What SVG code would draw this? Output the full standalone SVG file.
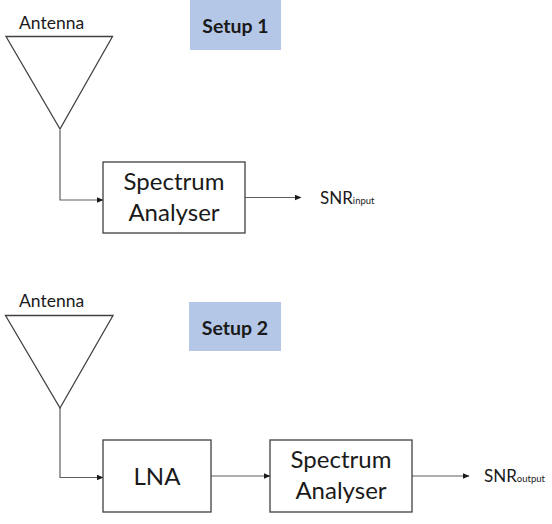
<svg xmlns="http://www.w3.org/2000/svg" width="552" height="524" viewBox="0 0 552 524">
<style>
text{font-family:Lato,"Open Sans",sans-serif;fill:#1a1a1a}
.s{fill:#fff;stroke:#404040;stroke-width:1.3}
.l{fill:none;stroke:#606060;stroke-width:1.2}
.b{fill:#b4c7e7}
.h{font-weight:700;font-size:19.500px;text-anchor:middle}
.t{font-size:24px;text-anchor:middle}
.a{font-size:17.500px}
.n{font-size:17px}
.u{font-size:9.500px}
</style>
<defs><marker id="m" markerWidth="7" markerHeight="6" refX="6.500" refY="3" orient="auto" markerUnits="userSpaceOnUse"><path d="M0 0L7 3L0 6z" fill="#1a1a1a"/></marker></defs>
<rect width="552" height="524" fill="#fff"/>
<g id="connectors">
<path class="l" marker-end="url(#m)" d="M60 130V200H103"/>
<path class="l" marker-end="url(#m)" d="M245 197.500H301"/>
<path class="l" marker-end="url(#m)" d="M60 408V477.500H103"/>
<path class="l" marker-end="url(#m)" d="M211 476H270"/>
<path class="l" marker-end="url(#m)" d="M412 476H469"/>
</g>
<g id="setup1"><rect class="b" x="190" y="0" width="91" height="50"/><text class="h" x="235.500" y="33">Setup 1</text></g>
<g id="antenna1"><path class="s" d="M6 36.500H112.500L60 129z"/><text class="a" x="19" y="29">Antenna</text></g>
<g id="analyser1"><rect class="s" x="103" y="162" width="142" height="71"/><text class="t" x="174" y="190">Spectrum</text><text class="t" x="174" y="221">Analyser</text></g>
<g id="snr1"><text x="320" y="204" class="n">SNR<tspan class="u">input</tspan></text></g>
<g id="setup2"><rect class="b" x="189" y="302" width="92" height="49"/><text class="h" x="235" y="335">Setup 2</text></g>
<g id="antenna2"><path class="s" d="M5.500 315.500H113L60 408z"/><text class="a" x="19" y="307">Antenna</text></g>
<g id="lna"><rect class="s" x="103" y="440" width="108" height="72"/><text class="t" x="157" y="485">LNA</text></g>
<g id="analyser2"><rect class="s" x="270" y="440" width="142" height="72"/><text class="t" x="341" y="468">Spectrum</text><text class="t" x="341" y="499">Analyser</text></g>
<g id="snr2"><text x="484" y="482" class="n">SNR<tspan class="u">output</tspan></text></g>
</svg>
